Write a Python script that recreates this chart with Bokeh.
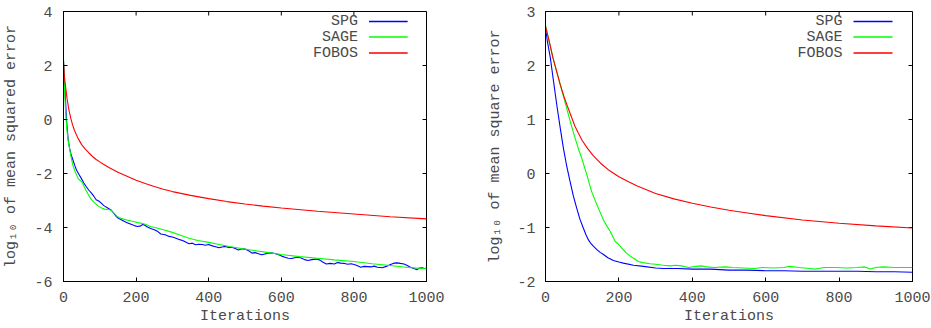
from bokeh.plotting import figure
from bokeh.layouts import row
from bokeh.models import Range1d, FixedTicker, Label, BoxAnnotation
from bokeh.embed import file_html
from bokeh.resources import INLINE

# ---------------- data ----------------
x_ticks = [0, 200, 400, 600, 800, 1000]
x_tick_labels = ["0", "200", "400", "600", "800", "1000"]
left_y_ticks = [-6, -4, -2, 0, 2, 4]
left_y_tick_labels = ["-6", "-4", "-2", "0", "2", "4"]
right_y_ticks = [-2, -1, 0, 1, 2, 3]
right_y_tick_labels = ["-2", "-1", "0", "1", "2", "3"]
series_names = ["SPG", "SAGE", "FOBOS"]

# left panel
spg_l_x = [0, 2, 4, 6, 8, 10, 13, 17, 21, 26, 31, 36, 42, 49, 56, 63, 70, 77, 84, 90, 97, 104, 112,
           122, 131, 140, 145, 150, 159, 168, 177, 186, 195, 204, 213, 218, 222, 230, 240, 250, 260,
           268, 280, 291, 300, 310, 320, 328, 338, 346, 355, 364, 373, 382, 391, 400, 410, 419, 428,
           437, 446, 455, 464, 473, 482, 491, 500, 510, 519, 528, 537, 546, 555, 564, 573, 582, 591,
           601, 610, 619, 628, 637, 646, 655, 664, 674, 684, 696, 705, 714, 724, 735, 746, 755, 764,
           774, 783, 792, 801, 810, 819, 828, 838, 847, 856, 865, 878, 889, 901, 910, 919, 928, 938,
           947, 956, 965, 974, 981, 988, 994, 1000]
spg_l_y = [2.2, 1.6, 1.1, 0.6, 0.05, -0.3, -0.75, -1.08, -1.3, -1.5, -1.7, -1.88, -2.02, -2.18, -2.35,
           -2.49, -2.62, -2.73, -2.85, -2.97, -3.02, -3.1, -3.2, -3.28, -3.35, -3.5, -3.59, -3.65,
           -3.71, -3.78, -3.83, -3.88, -3.93, -3.96, -3.94, -3.89, -3.9, -3.97, -4.04, -4.08, -4.15,
           -4.24, -4.27, -4.33, -4.35, -4.4, -4.45, -4.48, -4.55, -4.6, -4.58, -4.64, -4.62, -4.63,
           -4.66, -4.63, -4.68, -4.71, -4.75, -4.72, -4.7, -4.74, -4.73, -4.78, -4.83, -4.79, -4.8,
           -4.86, -4.95, -4.93, -4.97, -5.01, -4.98, -4.95, -4.94, -4.96, -5.0, -5.06, -5.1, -5.14,
           -5.15, -5.12, -5.1, -5.13, -5.19, -5.22, -5.19, -5.17, -5.2, -5.28, -5.35, -5.33, -5.35,
           -5.3, -5.32, -5.33, -5.36, -5.34, -5.37, -5.42, -5.47, -5.44, -5.45, -5.46, -5.43, -5.47,
           -5.49, -5.44, -5.37, -5.32, -5.31, -5.33, -5.35, -5.41, -5.47, -5.52, -5.56, -5.5, -5.49,
           -5.52, -5.51]

sage_l_x = [0, 2, 4, 6, 8, 10, 13, 17, 21, 26, 31, 36, 41, 45, 50, 54, 58, 63, 70, 77, 85, 95, 105,
            113, 120, 127, 133, 140, 147, 154, 165, 177, 190, 205, 218, 225, 240, 260, 280, 300, 320,
            346, 370, 400, 430, 460, 490, 520, 560, 600, 650, 700, 746, 800, 850, 900, 950, 1000]
sage_l_y = [2.2, 1.4, 0.8, 0.25, -0.15, -0.45, -0.8, -1.1, -1.4, -1.7, -1.9, -2.06, -2.2, -2.25, -2.3,
            -2.4, -2.52, -2.65, -2.82, -2.97, -3.08, -3.2, -3.28, -3.32, -3.33, -3.34, -3.38, -3.48,
            -3.58, -3.64, -3.69, -3.73, -3.77, -3.82, -3.85, -3.88, -3.96, -4.03, -4.1, -4.18, -4.28,
            -4.4, -4.48, -4.55, -4.63, -4.71, -4.78, -4.84, -4.92, -5.0, -5.08, -5.14, -5.2, -5.26,
            -5.34, -5.41, -5.48, -5.53]

fobos_l_x = [0, 2, 5, 10, 15, 20, 25, 30, 40, 50, 60, 70, 80, 90, 100, 110, 125, 150, 175, 200, 225,
             250, 275, 300, 350, 400, 450, 500, 550, 600, 700, 800, 900, 1000]
fobos_l_y = [2.1, 1.65, 1.3, 0.75, 0.35, 0.05, -0.2, -0.4, -0.7, -0.93, -1.1, -1.24, -1.37, -1.48,
             -1.57, -1.66, -1.78, -1.95, -2.1, -2.25, -2.37, -2.48, -2.58, -2.67, -2.81, -2.93, -3.04,
             -3.13, -3.21, -3.28, -3.4, -3.5, -3.6, -3.68]

# right panel
spg_r_x = [0, 5, 13, 20, 31, 40, 49, 58, 67, 76, 85, 94, 103, 110, 117, 124, 131, 140, 149, 158, 170,
           185, 200, 212, 240, 267, 300, 321, 360, 400, 450, 500, 550, 600, 650, 700, 750, 800, 850,
           900, 950, 1000]
spg_r_y = [2.71, 2.45, 2.15, 1.8, 1.26, 0.85, 0.46, 0.13, -0.15, -0.42, -0.64, -0.85, -1.01, -1.13,
           -1.23, -1.3, -1.35, -1.41, -1.46, -1.5, -1.56, -1.61, -1.64, -1.66, -1.7, -1.72, -1.75,
           -1.76, -1.76, -1.77, -1.77, -1.79, -1.79, -1.8, -1.8, -1.81, -1.81, -1.81, -1.81, -1.82,
           -1.82, -1.83]

sage_r_x = [0, 10, 20, 30, 40, 50, 60, 70, 80, 90, 99, 106, 113, 120, 126, 133, 140, 149, 158, 167,
            176, 183, 190, 199, 208, 220, 231, 242, 253, 265, 285, 300, 321, 340, 355, 370, 390, 410,
            425, 440, 460, 490, 510, 540, 570, 590, 620, 650, 665, 690, 720, 735, 760, 790, 820, 850,
            870, 885, 900, 920, 950, 980, 1000]
sage_r_y = [2.74, 2.45, 2.15, 1.9, 1.65, 1.4, 1.15, 0.9, 0.67, 0.45, 0.28, 0.12, -0.03, -0.2, -0.34,
            -0.46, -0.58, -0.72, -0.86, -0.97, -1.07, -1.16, -1.26, -1.31, -1.38, -1.47, -1.53, -1.58,
            -1.63, -1.65, -1.67, -1.68, -1.7, -1.71, -1.7, -1.71, -1.74, -1.72, -1.71, -1.73, -1.74,
            -1.73, -1.74, -1.75, -1.76, -1.74, -1.75, -1.74, -1.72, -1.74, -1.76, -1.77, -1.74, -1.74,
            -1.75, -1.74, -1.73, -1.77, -1.74, -1.73, -1.74, -1.74, -1.74]

fobos_r_x = [0, 10, 20, 30, 40, 50, 60, 70, 80, 90, 100, 115, 130, 150, 175, 200, 225, 250, 275, 300,
             350, 400, 450, 500, 550, 600, 700, 800, 900, 1000]
fobos_r_y = [2.72, 2.45, 2.15, 1.9, 1.65, 1.43, 1.24, 1.06, 0.88, 0.74, 0.61, 0.46, 0.33, 0.19, 0.05,
             -0.06, -0.15, -0.23, -0.3, -0.37, -0.47, -0.55, -0.62, -0.68, -0.73, -0.78, -0.86, -0.92,
             -0.97, -1.01]

# ---------------- styling ----------------
FONT = "Liberation Mono"
TXT = "#4a4a4a"
FS = "15px"
COLORS = ["#0000ff", "#00ff00", "#ff0000"]
HEIGHT = 328
B_TOP, B_BOTTOM = 11, 47
FRAME_H = HEIGHT - B_TOP - B_BOTTOM
TICK = 4  # px, inward
# key placement, in pixels from the frame's top-left corner
KEY_TEXT_RIGHT = 297
KEY_LINE = (308, 347)
KEY_ROWS = [10, 25.5, 41.5]


def style_axis(ax, ticks, labels):
    ax.ticker = FixedTicker(ticks=ticks)
    ax.major_tick_in = TICK
    ax.major_tick_out = 0
    ax.minor_tick_line_color = None
    ax.axis_line_color = "black"
    ax.major_tick_line_color = "black"
    ax.major_label_overrides = {t: l for t, l in zip(ticks, labels)}
    ax.major_label_text_font = FONT
    ax.major_label_text_font_size = FS
    ax.major_label_text_color = TXT
    ax.axis_label_text_font = FONT
    ax.axis_label_text_font_size = FS
    ax.axis_label_text_font_style = "normal"
    ax.axis_label_text_color = TXT


def make_panel(width, yr, yticks, ylabels, ylabel, series, borders, ystand):
    left, right = borders
    frame_w = width - left - right
    p = figure(width=width, height=HEIGHT, x_range=Range1d(0, 1000), y_range=Range1d(*yr),
               output_backend="svg", toolbar_location=None,
               min_border_left=left, min_border_right=right, min_border_top=B_TOP,
               min_border_bottom=B_BOTTOM)
    p.background_fill_color = "white"
    p.border_fill_color = "white"
    p.outline_line_color = "black"
    p.xgrid.visible = False
    p.ygrid.visible = False

    style_axis(p.xaxis[0], x_ticks, x_tick_labels)
    style_axis(p.yaxis[0], yticks, ylabels)
    p.xaxis[0].major_label_standoff = 10
    p.xaxis[0].axis_label_standoff = 3
    p.yaxis[0].major_label_standoff = ystand[0]
    p.yaxis[0].axis_label_standoff = ystand[1]
    p.xaxis[0].axis_label = "Iterations"
    p.yaxis[0].axis_label = ylabel

    y0, y1 = yr
    upp_y = (y1 - y0) / FRAME_H      # data units per pixel
    upp_x = 1000 / frame_w

    # mirrored inward ticks on the top and right frame edges
    p.segment(x0=x_ticks, x1=x_ticks, y0=[y1] * len(x_ticks),
              y1=[y1 - TICK * upp_y] * len(x_ticks), line_color="black", line_width=1)
    p.segment(x0=[1000] * len(yticks), x1=[1000 - TICK * upp_x] * len(yticks), y0=yticks,
              y1=yticks, line_color="black", line_width=1)

    for (xs, ys), col in zip(series, COLORS):
        p.line(xs, ys, line_color=col, line_width=1.1)

    # gnuplot-style key: right-aligned text, line sample to its right
    for name, col, ry in zip(series_names, COLORS, KEY_ROWS):
        yv = y1 - ry * upp_y
        p.add_layout(Label(x=KEY_TEXT_RIGHT * upp_x, y=yv, text=name, text_align="right",
                           text_baseline="middle", text_font=FONT, text_font_size=FS,
                           text_color=TXT))
        p.add_layout(BoxAnnotation(left=KEY_LINE[0] * upp_x, right=KEY_LINE[1] * upp_x,
                                   bottom=yv, top=yv, fill_color=None, line_color=col,
                                   line_width=1.3, line_alpha=1.0))
    return p


p1 = make_panel(470, (-6, 4), left_y_ticks, left_y_tick_labels,
                "log\u2081\u2080 of mean squared error",
                [(spg_l_x, spg_l_y), (sage_l_x, sage_l_y), (fobos_l_x, fobos_l_y)],
                (60, 44), (11, 11))
p2 = make_panel(461, (-2, 3), right_y_ticks, right_y_tick_labels,
                "log\u2081\u2080 of mean square error",
                [(spg_r_x, spg_r_y), (sage_r_x, sage_r_y), (fobos_r_x, fobos_r_y)],
                (75, 19), (10, 10))

layout = row(p1, p2)
open("out.html", "w").write(file_html(layout, INLINE))
